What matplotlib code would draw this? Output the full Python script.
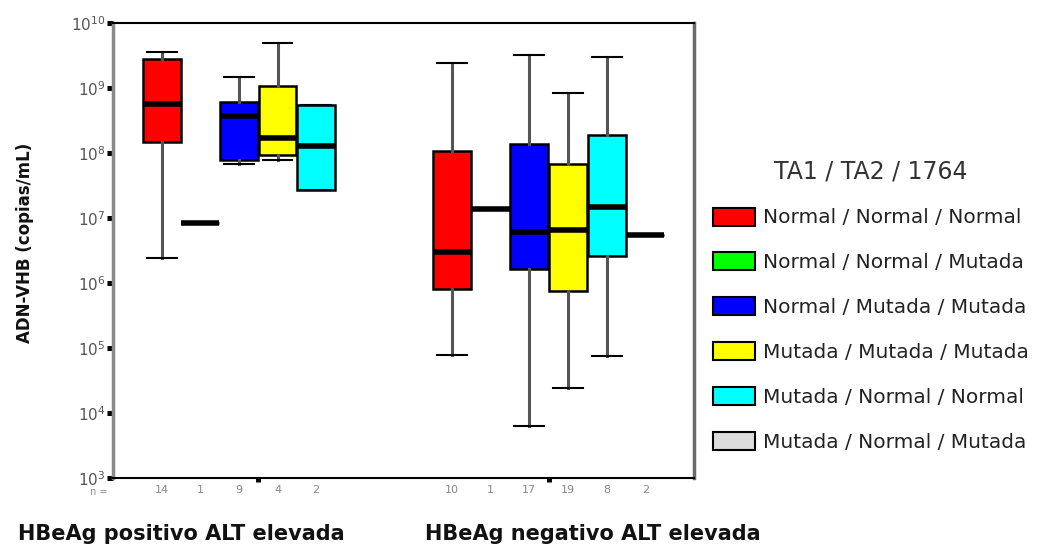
import numpy as np
import matplotlib
matplotlib.use('Agg')
import matplotlib.pyplot as plt
from matplotlib.patches import Patch
from matplotlib.ticker import NullLocator

groups = ['HBeAg positivo ALT elevada', 'HBeAg negativo ALT elevada']
categories = ['Normal / Normal / Normal', 'Normal / Normal / Mutada',
              'Normal / Mutada / Mutada', 'Mutada / Mutada / Mutada',
              'Mutada / Normal / Normal', 'Mutada / Normal / Mutada']
colors = ['#ff0000', '#00ff00', '#0000ff', '#ffff00', '#00ffff', '#dcdcdc']

# HBeAg positivo (no cases for the last genotype)
n_pos = [14, 1, 9, 4, 2]
whislo_pos = [2.4e6, 8.4e6, 6.8e7, 7.8e7, 2.7e7]
q1_pos = [1.5e8, 8.4e6, 7.8e7, 9.3e7, 2.7e7]
med_pos = [5.7e8, 8.4e6, 3.7e8, 1.7e8, 1.3e8]
q3_pos = [2.8e9, 8.4e6, 6.1e8, 1.07e9, 5.5e8]
whishi_pos = [3.6e9, 8.4e6, 1.5e9, 5.0e9, 5.5e8]

# HBeAg negativo
n_neg = [10, 1, 17, 19, 8, 2]
whislo_neg = [7.8e4, 1.4e7, 6.3e3, 2.4e4, 7.6e4, 5.5e6]
q1_neg = [8.1e5, 1.4e7, 1.65e6, 7.6e5, 2.6e6, 5.5e6]
med_neg = [3.0e6, 1.4e7, 6.1e6, 6.6e6, 1.5e7, 5.5e6]
q3_neg = [1.07e8, 1.4e7, 1.4e8, 6.8e7, 1.9e8, 5.5e6]
whishi_neg = [2.4e9, 1.4e7, 3.2e9, 8.4e8, 3.0e9, 5.5e6]

decades = [1e3, 1e4, 1e5, 1e6, 1e7, 1e8, 1e9, 1e10]

SLOT = 0.133


def slot_pos(group, k):
    return group + 1 + (k - 2.5) * SLOT


def draw_group(ax, group, n, whislo, q1, med, q3, whishi):
    for k in range(len(n)):
        stats = [dict(whislo=whislo[k], q1=q1[k], med=med[k],
                      q3=q3[k], whishi=whishi[k], fliers=[])]
        simple = n[k] == 1 or q1[k] == q3[k]
        ax.bxp(stats, positions=[slot_pos(group, k)], widths=SLOT * 0.98,
               capwidths=0.103, patch_artist=True, showcaps=not simple,
               manage_ticks=False,
               boxprops=dict(facecolor=colors[k], edgecolor='black',
                             linewidth=1.8),
               whiskerprops=dict(color='#555555', linewidth=2.2),
               capprops=dict(color='black', linewidth=1.5),
               medianprops=dict(color='black', linewidth=4,
                                solid_capstyle='butt'))
        ax.text(slot_pos(group, k), -0.027, str(n[k]),
                transform=ax.get_xaxis_transform(),
                ha='center', va='center', fontsize=8, color='#888888')


fig = plt.figure(figsize=(10.5, 5.46), dpi=100)
ax = fig.add_axes([0.1076, 0.1245, 0.5533, 0.8333])

draw_group(ax, 0, n_pos, whislo_pos, q1_pos, med_pos, q3_pos, whishi_pos)
draw_group(ax, 1, n_neg, whislo_neg, q1_neg, med_neg, q3_neg, whishi_neg)

ax.set_yscale('log')
ax.set_ylim(1e3, 1e10)
ax.set_xlim(0.5, 2.5)
ax.set_yticks(decades)
ax.yaxis.set_minor_locator(NullLocator())
ax.set_xticks([1, 2])
ax.set_xticklabels(['', ''])
ax.tick_params(axis='y', direction='out', length=4.5, width=3.6,
               color='black', labelsize=11, labelcolor='#555555', pad=1)
ax.tick_params(axis='x', direction='out', length=3, width=3.6, color='black')

ax.spines['left'].set_color('#8a8a8a')
ax.spines['left'].set_linewidth(2.5)
ax.spines['right'].set_color('#6a6a6a')
ax.spines['right'].set_linewidth(2.5)
ax.spines['top'].set_linewidth(1.5)
ax.spines['bottom'].set_linewidth(1.5)

ax.text(-0.024, -0.031, 'n =', transform=ax.transAxes, ha='center',
        va='center', fontsize=7, color='#888888')

fig.text(0.024, 0.555, 'ADN-VHB (copias/mL)', rotation=90, ha='center',
         va='center', fontsize=12, fontweight='bold', color='#111111')
fig.text(0.017, 0.022, groups[0], ha='left', va='center', fontsize=15,
         fontweight='bold', color='#111111')
fig.text(0.405, 0.022, groups[1], ha='left', va='center', fontsize=15,
         fontweight='bold', color='#111111')

handles = [Patch(facecolor=c, edgecolor='black', linewidth=1.5) for c in colors]
leg = ax.legend(handles, categories, title='TA1 / TA2 / 1764',
                loc='upper left', bbox_to_anchor=(0.679, 0.707),
                bbox_transform=fig.transFigure, frameon=False,
                fontsize=14.5, title_fontsize=17, handlelength=2.1,
                handleheight=1.0, handletextpad=0.4, labelspacing=1.24,
                borderpad=0, borderaxespad=0)
leg.get_title().set_color('#333333')
leg._legend_box.sep = 17
for t in leg.get_texts():
    t.set_color('#222222')

fig.savefig('out.png', dpi=100)
